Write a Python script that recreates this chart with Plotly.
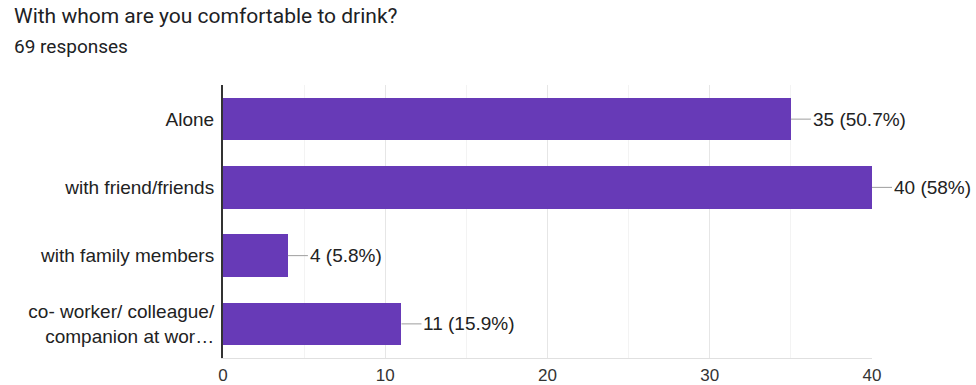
import plotly.graph_objects as go

# Survey answers and counts
categories = ["Alone", "with friend/friends", "with family members",
              "co- worker/ colleague/<br>companion at wor…"]
counts = [35, 40, 4, 11]
percents = ["50.7%", "58%", "5.8%", "15.9%"]
x_ticks = [0, 10, 20, 30, 40]

title_text = "With whom are you comfortable to drink?"
subtitle_text = "69 responses"

BAR = "#673ab7"
W, H = 976, 385
ML, MR, MT, MB = 223, 104, 85, 27

fig = go.Figure(go.Bar(
    x=counts, y=categories, orientation="h",
    marker=dict(color=BAR, line=dict(width=0)),
    width=0.62, hoverinfo="skip",
))

# value labels joined to the bar end by a short grey leader line
for c, cat, p in zip(counts, categories, percents):
    fig.add_annotation(
        x=c, y=cat, xref="x", yref="y",
        text=f"{c} ({p})", showarrow=True, arrowhead=0, arrowwidth=1,
        arrowcolor="#9e9e9e", ax=20, ay=0, xanchor="left",
        font=dict(family="Liberation Sans, Arial", size=19, color="#222222"),
    )

fig.add_annotation(
    text=title_text, xref="paper", yref="paper",
    x=(12 - ML) / (W - ML - MR), y=1 + (MT - 2) / (H - MT - MB),
    xanchor="left", yanchor="top", showarrow=False,
    font=dict(family="Roboto, Arial", size=21, color="#202124"),
)
fig.add_annotation(
    text=subtitle_text, xref="paper", yref="paper",
    x=(12 - ML) / (W - ML - MR), y=1 + (MT - 33) / (H - MT - MB),
    xanchor="left", yanchor="top", showarrow=False,
    font=dict(family="Roboto, Arial", size=19, color="#202124"),
)

fig.update_layout(
    width=W, height=H,
    margin=dict(l=ML, r=MR, t=MT, b=MB, autoexpand=False),
    plot_bgcolor="white", paper_bgcolor="white",
    showlegend=False, bargap=0,
    xaxis=dict(
        range=[0, 40], tickvals=x_ticks, showgrid=True, gridcolor="#e6e6e6",
        gridwidth=1, zeroline=False, showline=True, linecolor="#e0e0e0",
        tickfont=dict(family="Liberation Sans, Arial", size=17, color="#333333"),
        ticks="", ticklen=0, ticklabelstandoff=2, fixedrange=True, automargin=False,
        minor=dict(dtick=5, showgrid=True, gridcolor="#f3f3f3", gridwidth=1),
    ),
    yaxis=dict(
        autorange="reversed", showgrid=False, zeroline=False,
        showline=True, linecolor="#333333", linewidth=2,
        tickfont=dict(family="Liberation Sans, Arial", size=19, color="#222222"),
        ticks="", ticklabelstandoff=3, fixedrange=True, automargin=False,
    ),
)

fig.write_html("out.html")
